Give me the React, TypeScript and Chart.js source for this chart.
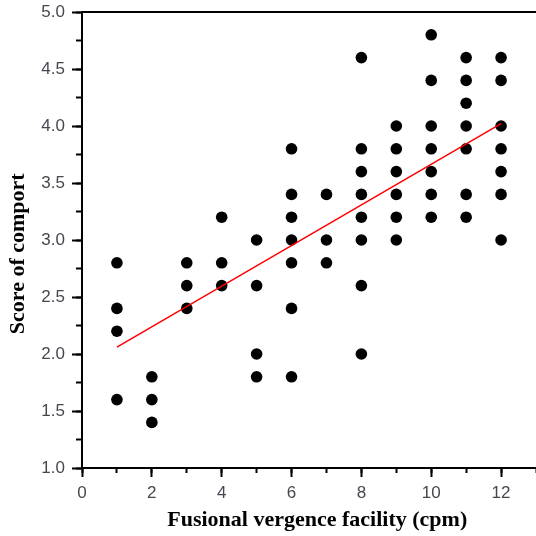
import { useEffect, useRef } from "react";
import { Chart, registerables } from "chart.js";

Chart.register(...registerables);

// Fusional vergence facility (cpm) for each subject
const facility = [
  1, 1, 1, 1,
  2, 2, 2,
  3, 3, 3,
  4, 4, 4,
  5, 5, 5, 5,
  6, 6, 6, 6, 6, 6, 6,
  7, 7, 7,
  8, 8, 8, 8, 8, 8, 8, 8,
  9, 9, 9, 9, 9, 9,
  10, 10, 10, 10, 10, 10, 10,
  11, 11, 11, 11, 11, 11, 11,
  12, 12, 12, 12, 12, 12, 12,
];

// Score of comport for each subject
const comfort = [
  2.8, 2.4, 2.2, 1.6,
  1.8, 1.6, 1.4,
  2.8, 2.6, 2.4,
  3.2, 2.8, 2.6,
  3.0, 2.6, 2.0, 1.8,
  3.8, 3.4, 3.2, 3.0, 2.8, 2.4, 1.8,
  3.4, 3.0, 2.8,
  4.6, 3.8, 3.6, 3.4, 3.2, 3.0, 2.6, 2.0,
  4.0, 3.8, 3.6, 3.4, 3.2, 3.0,
  4.8, 4.4, 4.0, 3.8, 3.6, 3.4, 3.2,
  4.6, 4.4, 4.2, 4.0, 3.8, 3.4, 3.2,
  4.6, 4.4, 4.0, 3.8, 3.6, 3.4, 3.0,
];

// Regression line end points
const fitX = [1, 12];
const fitY = [2.06, 4.02];

// Axis ranges / tick label limits
const xRange = [0, 13];
const xLastLabel = 12;
const yRange = [1, 5];

const xTitle = "   Fusional vergence facility (cpm)";
const yTitle = "Score of comport     ";

const tickFont = { family: "'Liberation Sans', Arial, sans-serif", size: 17 };
const tickColor = "#45484f";
const titleFont = { family: "'Liberation Serif', 'Times New Roman', serif", size: 22, weight: "bold" as const };

const topBorder = {
  id: "topBorder",
  afterDraw(chart: any) {
    const { ctx, chartArea } = chart;
    ctx.save();
    ctx.strokeStyle = "#000";
    ctx.lineWidth = 2;
    ctx.beginPath();
    ctx.moveTo(chartArea.left, chartArea.top);
    ctx.lineTo(chart.width, chartArea.top);
    ctx.stroke();
    ctx.restore();
  },
};

const noPad = (s: any) => {
  s.paddingLeft = 0;
  s.paddingRight = 0;
  s.paddingTop = 0;
  s.paddingBottom = 0;
};

export default function App() {
  const ref = useRef<HTMLCanvasElement | null>(null);

  useEffect(() => {
    if (!ref.current) return;
    const points = facility.map((x, i) => ({ x, y: comfort[i] }));
    const fit = fitX.map((x, i) => ({ x, y: fitY[i] }));
    const chart = new Chart(ref.current, {
      type: "scatter",
      data: {
        datasets: [
          {
            type: "line",
            data: fit,
            borderColor: "#ff0000",
            borderWidth: 1.5,
            pointRadius: 0,
            fill: false,
            order: 0,
          } as any,
          {
            type: "scatter",
            data: points,
            backgroundColor: "#000",
            borderWidth: 0,
            pointRadius: 5.8,
            order: 1,
          },
        ],
      },
      options: {
        responsive: false,
        animation: false,
        events: [],
        layout: { autoPadding: false, padding: { top: 12, right: 0, left: 0, bottom: 0 } },
        plugins: { legend: { display: false }, tooltip: { enabled: false } },
        scales: {
          x: {
            type: "linear",
            position: "bottom",
            weight: 1,
            min: xRange[0],
            max: xRange[1],
            bounds: "data",
            afterBuildTicks: (s: any) => {
              s.ticks = s.ticks.filter((t: any) => t.value <= xLastLabel);
            },
            afterFit: (s: any) => { s.height = 68; noPad(s); },
            ticks: {
              stepSize: 2,
              includeBounds: false,
              autoSkip: false,
              maxRotation: 0,
              padding: 6,
              color: tickColor,
              font: tickFont,
            },
            grid: { drawOnChartArea: false, drawTicks: true, tickLength: 9, tickWidth: 2, tickColor: "#000" },
            border: { display: true, color: "#000", width: 2 },
            title: { display: true, text: xTitle, color: "#000", font: titleFont, padding: { top: 0, bottom: 2 } },
          },
          xMinor: {
            type: "linear",
            position: "bottom",
            weight: 0,
            min: xRange[0],
            max: xRange[1],
            bounds: "data",
            afterFit: (s: any) => { s.height = 0; noPad(s); },
            ticks: { stepSize: 1, includeBounds: false, display: false },
            grid: { drawOnChartArea: false, drawTicks: true, tickLength: 5, tickWidth: 2, tickColor: "#000" },
            border: { display: false },
          },
          y: {
            type: "linear",
            position: "left",
            weight: 1,
            min: yRange[0],
            max: yRange[1],
            afterFit: (s: any) => { s.width = 82; noPad(s); },
            ticks: {
              stepSize: 0.5,
              autoSkip: false,
              padding: 7,
              color: tickColor,
              font: tickFont,
              callback: (v: any) => Number(v).toFixed(1),
            },
            grid: { drawOnChartArea: false, drawTicks: true, tickLength: 10, tickWidth: 2, tickColor: "#000" },
            border: { display: true, color: "#000", width: 2 },
            title: { display: true, text: yTitle, color: "#000", font: titleFont, padding: { top: 5, bottom: 0 } },
          },
          yMinor: {
            type: "linear",
            position: "left",
            weight: 0,
            min: yRange[0],
            max: yRange[1],
            afterFit: (s: any) => { s.width = 0; noPad(s); },
            ticks: { stepSize: 0.25, display: false },
            grid: { drawOnChartArea: false, drawTicks: true, tickLength: 6, tickWidth: 2, tickColor: "#000" },
            border: { display: false },
          },
        },
      },
      plugins: [topBorder],
    });
    return () => chart.destroy();
  }, []);

  return (
    <div style={{ position: "absolute", left: 0, top: 0, width: 536, height: 536, background: "#fff" }}>
      <canvas ref={ref} width={536} height={536} style={{ display: "block" }} />
    </div>
  );
}
